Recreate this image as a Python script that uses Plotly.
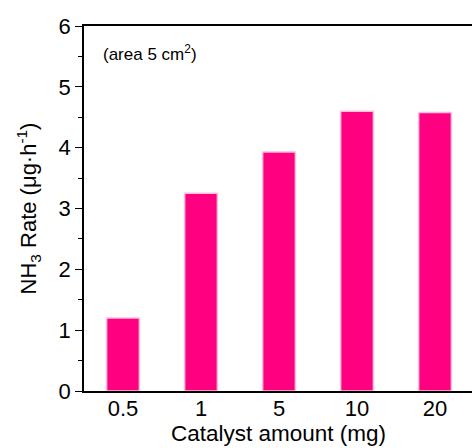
import plotly.graph_objects as go

categories = ["0.5", "1", "5", "10", "20"]
rates = [1.2, 3.25, 3.93, 4.6, 4.58]

fig = go.Figure()
fig.add_trace(go.Bar(
    x=list(range(len(categories))), y=rates, width=0.42,
    marker=dict(color="#FF0080", line=dict(color="#FFC0DC", width=1.5)),
))

font = "Arial, Liberation Sans, sans-serif"
fig.update_layout(
    width=472, height=448,
    margin=dict(l=84, r=0, t=26, b=57),
    paper_bgcolor="white", plot_bgcolor="white",
    showlegend=False,
    font=dict(family=font, color="black"),
    xaxis=dict(
        range=[-0.5, 4.474], tickmode="array",
        tickvals=list(range(len(categories))), ticktext=categories,
        showgrid=False, zeroline=False,
        showline=True, linecolor="black", linewidth=1.5, mirror=True,
        ticks="", tickfont=dict(size=22), ticklabelstandoff=-3,
    ),
    yaxis=dict(
        range=[0, 6], dtick=1, showgrid=False, zeroline=False,
        showline=True, linecolor="black", linewidth=1.5,
        ticks="outside", ticklen=7, tickwidth=1.2, tickcolor="black",
        tickfont=dict(size=22),
        minor=dict(dtick=0.5, ticks="outside", ticklen=4, tickwidth=1.2, tickcolor="black"),
        title=dict(text="NH<sub>3</sub> Rate (μg·h<sup>-1</sup>)", font=dict(size=22), standoff=16),
    ),
)
fig.add_annotation(
    x=(279 - 84) / 390, y=(391 - 433) / 365, xref="paper", yref="paper",
    xanchor="center", yanchor="middle",
    text="Catalyst amount (mg)", showarrow=False, font=dict(size=22.5, family=font),
)
fig.add_annotation(
    x=0.045, y=0.925, xref="paper", yref="paper", xanchor="left", yanchor="middle",
    text="(area 5 cm<sup>2</sup>)", showarrow=False, font=dict(size=17, family=font),
)
fig.write_html("out.html")
